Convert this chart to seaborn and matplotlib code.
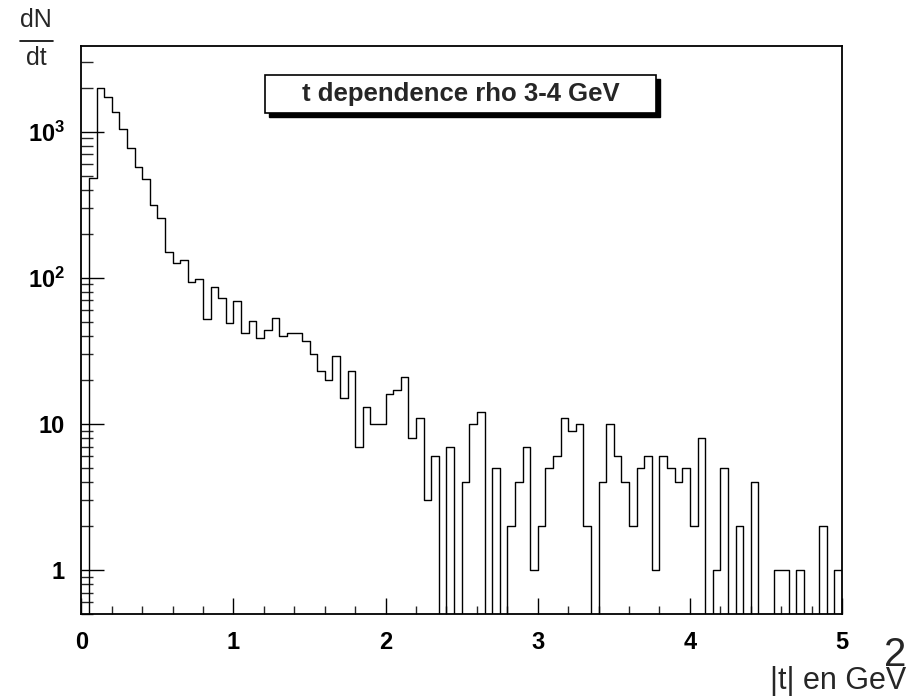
"""
    Histogramme de |t| pour le rho entre 3 et 4 GeV (style ROOT, echelle log).
"""

import numpy as np
import pandas as pd
import matplotlib
matplotlib.use("Agg")
from matplotlib import pyplot as plt
from matplotlib import ticker
from matplotlib.patches import Rectangle
from matplotlib.lines import Line2D
import seaborn as sns

# 100 bins de 0 a 5 GeV^2
T_MIN, T_MAX, N_BINS = 0.0, 5.0, 100
counts = [0, 482, 2000, 1720, 1364, 1038, 777, 571, 472, 314,
          256, 150, 126, 132, 94, 98, 52, 86, 73, 49,
          69, 42, 51, 39, 44, 53, 40, 42, 42, 37,
          30, 23, 20, 29, 15, 23, 7, 13, 10, 10,
          16, 17, 21, 8, 11, 3, 6, 0, 7, 0,
          4, 10, 12, 0, 5, 0, 2, 4, 7, 1,
          2, 5, 6, 11, 9, 10, 2, 0, 4, 10,
          6, 4, 2, 5, 6, 1, 6, 5, 4, 5,
          2, 8, 0, 1, 5, 0, 2, 0, 4, 0,
          0, 1, 1, 0, 1, 0, 0, 2, 0, 1]
x_ticks = [0, 1, 2, 3, 4, 5]
y_ticks = [1, 10, 100, 1000]
y_tick_labels = ["1", "10", "10$^2$", "10$^3$"]
title = "t dependence rho 3-4 GeV"

edges = np.linspace(T_MIN, T_MAX, N_BINS + 1)
df = pd.DataFrame({"t": (edges[:-1] + edges[1:]) / 2, "n": counts})

sns.set_style("white")
plt.rcParams["font.family"] = ["Liberation Sans", "DejaVu Sans"]
plt.rcParams["mathtext.fontset"] = "custom"
plt.rcParams["mathtext.rm"] = "Liberation Sans:bold"
plt.rcParams["mathtext.default"] = "rm"

fig = plt.figure(figsize=(9.23, 7), dpi=100)
ax = fig.add_axes([0.0881, 0.1229, 0.8242, 0.8114])

sns.histplot(data=df, x="t", weights="n", bins=N_BINS, binrange=(T_MIN, T_MAX),
             element="step", fill=False, color="black", linewidth=1.0, ax=ax)
ax.set_yscale("log")
ax.set_xlim(T_MIN, T_MAX)
ax.set_ylim(0.5, 3860)
ax.set_xlabel("")
ax.set_ylabel("")

# ticks vers l'interieur, seulement en bas et a gauche
ax.xaxis.set_major_locator(ticker.FixedLocator(x_ticks))
ax.xaxis.set_minor_locator(ticker.MultipleLocator(0.2))
ax.yaxis.set_major_locator(ticker.FixedLocator(y_ticks))
ax.yaxis.set_major_formatter(ticker.FixedFormatter(y_tick_labels))
ax.yaxis.set_minor_locator(ticker.LogLocator(base=10, subs=np.arange(2, 10), numticks=20))
ax.yaxis.set_minor_formatter(ticker.NullFormatter())
ax.tick_params(axis="x", which="major", direction="in", length=11.5, width=1,
               bottom=True, top=False, labelsize=17, pad=12, colors="black")
ax.tick_params(axis="x", which="minor", direction="in", length=5.8, width=1,
               bottom=True, top=False)
ax.tick_params(axis="y", which="major", direction="in", length=16.5, width=1,
               left=True, right=False, labelsize=17, pad=12, colors="black")
ax.tick_params(axis="y", which="minor", direction="in", length=8.4, width=1,
               left=True, right=False)
for lbl in ax.get_xticklabels() + ax.get_yticklabels():
    lbl.set_fontweight("bold")

for spine in ax.spines.values():
    spine.set_linewidth(1.3)
    spine.set_color("black")
ax.grid(False)

# boite du titre avec ombre
W, H = 923.0, 700.0
bx0, bx1, by0, by1 = 265, 656, 75, 113
fig.patches.append(Rectangle((bx0 / W + 4 / W, 1 - by1 / H - 4 / H),
                             (bx1 - bx0) / W, (by1 - by0) / H,
                             transform=fig.transFigure, facecolor="black",
                             edgecolor="black", zorder=5))
fig.patches.append(Rectangle((bx0 / W, 1 - by1 / H), (bx1 - bx0) / W, (by1 - by0) / H,
                             transform=fig.transFigure, facecolor="white",
                             edgecolor="black", linewidth=1.2, zorder=6))
fig.text((bx0 + bx1) / 2 / W, 1 - (by0 + by1) / 2 / H, title,
         ha="center", va="center", fontsize=18.5, fontweight="bold", zorder=7)

# label de l'axe y : dN / dt
fig.text(36 / W, 1 - 20 / H, "dN", ha="center", va="center", fontsize=18)
fig.lines.append(Line2D([20 / W, 53 / W], [1 - 41 / H, 1 - 41 / H],
                        transform=fig.transFigure, color="black", linewidth=1.2))
fig.text(36 / W, 1 - 58 / H, "dt", ha="center", va="center", fontsize=18)

# label de l'axe x
fig.text(906 / W, 1 - 681 / H, "|t| en GeV", ha="right", va="center", fontsize=22)
fig.text(895 / W, 1 - 655 / H, "2", ha="center", va="center", fontsize=29)

fig.savefig("out.png", dpi=100)
